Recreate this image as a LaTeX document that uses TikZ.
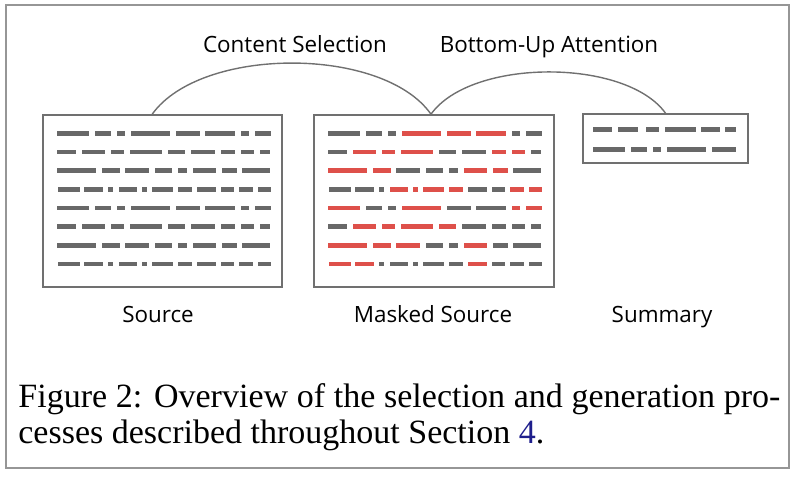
\documentclass[tikz,border=0pt]{standalone}
\usepackage{fontspec}
\setmainfont{Liberation Serif}
\newfontfamily\labelfont{Open Sans}
\usetikzlibrary{calc}
\definecolor{framegray}{RGB}{150,150,150}
\definecolor{boxgray}{RGB}{112,112,112}
\definecolor{dashgray}{RGB}{104,104,104}
\definecolor{dashred}{RGB}{222,80,74}
\definecolor{linkblue}{RGB}{30,30,140}

\tikzset{
  textbox/.style={draw=boxgray, line width=0.8pt, inner sep=0pt},
  gw/.style={draw=dashgray, line width=2.3pt},
  rw/.style={draw=dashred, line width=2.3pt},
  link/.style={draw=boxgray, line width=0.7pt},
  tag/.style={font=\labelfont\fontsize{11.2}{13}\selectfont, anchor=base, inner sep=0pt},
}
\newcommand{\wordrow}[2]{\foreach \a/\b/\c in {#2} \draw[\c] (\a,#1) -- (\b,#1);}

\begin{document}
\begin{tikzpicture}[x=0.5pt, y=-0.5pt]
\useasboundingbox (0,0) rectangle (798,479);
\draw[framegray, line width=0.8pt] (6,5) rectangle (789,468);

\node[textbox, minimum width=119.5pt, minimum height=86pt] (src) at (162.5,201) {};
\node[textbox, minimum width=120pt, minimum height=86pt] (msk) at (434,201) {};
\node[textbox, minimum width=82.5pt, minimum height=24.5pt] (summ) at (665.5,138.5) {};

% source text, all words grey
\begin{scope}[shift={(src.north west)}]
\wordrow{19}{15/47/gw,53/69/gw,75/83/gw,89/128/gw,134/158/gw,163/193/gw,199/207/gw,213/229/gw}
\wordrow{37.7}{15/34/gw,40/63/gw,69/82/gw,88/120/gw,126/143/gw,149/173/gw,179/193/gw,199/212/gw,218/228/gw}
\wordrow{56.4}{15/54/gw,60/78/gw,83/107/gw,113/130/gw,136/145/gw,151/174/gw,180/195/gw,200/228/gw}
\wordrow{75.1}{16/38/gw,42/61/gw,66/71/gw,77/95/gw,100/105/gw,110/131/gw,136/150/gw,155/174/gw,179/192/gw,197/211/gw,216/229/gw}
\wordrow{93.8}{15/47/gw,53/69/gw,75/83/gw,89/128/gw,134/158/gw,163/193/gw,199/207/gw,213/229/gw}
\wordrow{112.5}{15/34/gw,40/63/gw,69/82/gw,88/120/gw,126/143/gw,149/173/gw,179/193/gw,199/212/gw,218/228/gw}
\wordrow{131.2}{15/54/gw,60/78/gw,83/107/gw,113/130/gw,136/145/gw,151/174/gw,180/195/gw,200/228/gw}
\wordrow{149.9}{16/38/gw,42/61/gw,66/71/gw,77/95/gw,100/105/gw,110/131/gw,136/150/gw,155/174/gw,179/192/gw,197/211/gw,216/229/gw}
\end{scope}

% masked source, selected words red
\begin{scope}[shift={(msk.north west)}]
\wordrow{19}{15/47/gw,53/69/gw,75/83/gw,89/128/rw,134/158/rw,163/193/rw,199/207/gw,213/229/gw}
\wordrow{37.7}{15/34/gw,40/63/rw,69/82/rw,88/120/rw,126/143/gw,149/173/gw,179/193/rw,199/212/rw,218/228/gw}
\wordrow{56.4}{15/54/rw,60/78/rw,83/107/gw,113/130/gw,136/145/gw,151/174/rw,180/195/rw,200/228/gw}
\wordrow{75.1}{16/38/gw,42/61/gw,66/71/gw,77/95/rw,100/105/rw,110/131/rw,136/150/rw,155/174/gw,179/192/gw,197/211/rw,216/229/rw}
\wordrow{93.8}{15/47/rw,53/69/gw,75/83/gw,89/128/rw,134/158/gw,163/193/gw,199/207/rw,213/229/rw}
\wordrow{112.5}{15/34/gw,40/63/rw,69/82/rw,88/120/rw,126/143/rw,149/173/gw,179/193/gw,199/212/gw,218/228/gw}
\wordrow{131.2}{15/54/rw,60/78/rw,83/107/rw,113/130/gw,136/145/gw,151/174/rw,180/195/gw,200/228/gw}
\wordrow{149.9}{16/38/rw,42/61/rw,66/71/gw,77/95/gw,100/105/gw,110/131/gw,136/150/gw,155/174/rw,179/192/gw,197/211/gw,216/229/gw}
\end{scope}

% summary
\begin{scope}[shift={(summ.north west)}]
\wordrow{16}{11/30/gw,36/56/gw,64/77/gw,83/114/gw,119/138/gw,143/154/gw}
\wordrow{36}{11/43/gw,49/65/gw,71/79/gw,85/124/gw,130/154/gw}
\end{scope}

% connecting arcs
\coordinate (selA) at ($(src.north west)+(110,0)$);
\coordinate (selB) at ($(msk.north)+(-3,0)$);
\draw[link] (selA) .. controls (201,46) and (383,46) .. (selB);
\draw[link] (selB) .. controls (471,58) and (626,58) .. (summ.north);

\node[tag] (cs) at (295,52) {Content Selection};
\node[tag] (bu) at (549,52) {Bottom-Up Attention};
\node[tag] (srcl) at (158,322) {Source};
\node[tag] (mskl) at (433,322) {Masked Source};
\node[tag] (summl) at (662,322) {Summary};

\node[anchor=base west, align=left, inner sep=0pt, font=\fontsize{17}{18}\selectfont] (cap) at (18,443)
  {\makebox[381pt][s]{Figure 2: Overview of the selection and generation pro-}\\
   cesses described throughout Section \textcolor{linkblue}{4}.};
\end{tikzpicture}
\end{document}
